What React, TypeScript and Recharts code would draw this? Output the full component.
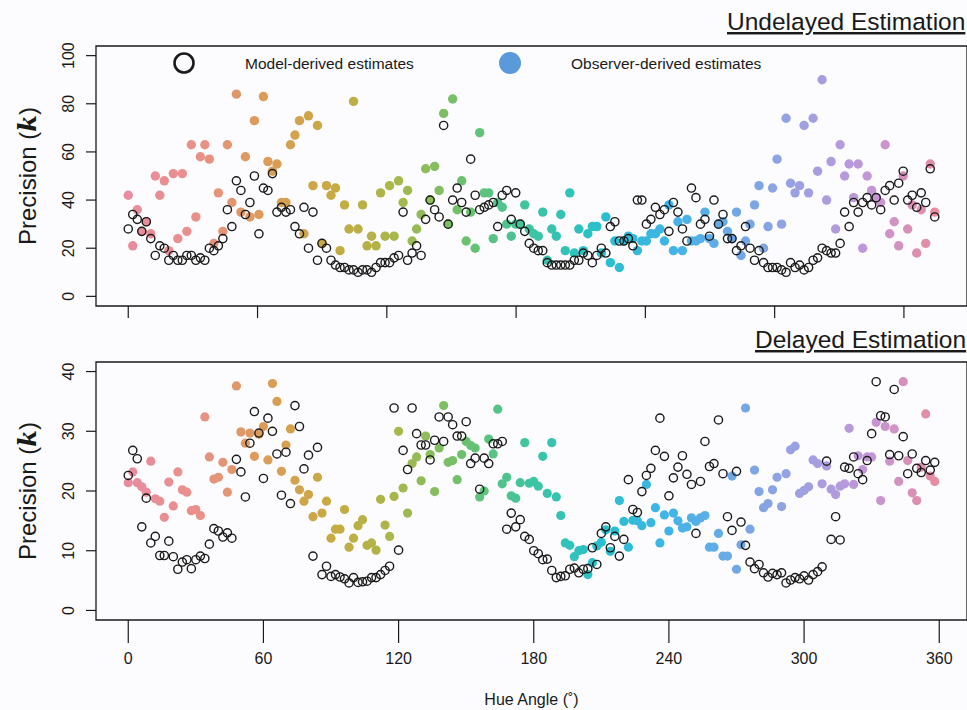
import { Label, ReferenceArea, Scatter, ScatterChart, XAxis, YAxis } from "recharts";

// stimulus hues, 2 degree steps
const hueAngles = Array.from({ length: 180 }, (_, i) => i * 2);

// the undelayed panel's axis is stretched: its data runs to ~374 on its own scale
const TOP_AXIS_SCALE = 374.3 / 358;

const xTicks = [0, 60, 120, 180, 240, 300, 360];
const topYTicks = [0, 20, 40, 60, 80, 100];
const bottomYTicks = [0, 10, 20, 30, 40];

// Undelayed estimation
const topModel = [
  28, 34, 32, 27, 31, 24, 17, 21, 20, 15,
  17, 15, 15, 17, 17, 15, 16, 15, 20, 19,
  21, 24, 36, 29, 48, 44, 34, 39, 50, 26,
  45, 44, 51, 35, 37, 35, 36, 29, 26, 37,
  20, 35, 15, 22, 20, 15, 13, 12, 12, 11,
  11, 10, 11, 11, 10, 12, 14, 14, 14, 16,
  17, 35, 15, 18, 21, 17, 32, 40, 36, 33,
  71, 30, 40, 45, 39, 35, 57, 42, 36, 37,
  38, 39, 29, 42, 44, 32, 43, 30, 27, 22,
  20, 19, 19, 14, 13, 13, 13, 13, 13, 15,
  15, 18, 17, 14, 17, 20, 18, 29, 31, 23,
  23, 24, 21, 40, 40, 30, 32, 37, 34, 36,
  27, 39, 35, 28, 23, 45, 41, 30, 32, 25,
  40, 30, 34, 24, 24, 19, 21, 29, 20, 15,
  19, 14, 12, 12, 12, 11, 10, 14, 12, 13,
  11, 12, 15, 16, 20, 19, 18, 18, 22, 35,
  29, 39, 35, 39, 41, 38, 41, 36, 44, 46,
  40, 47, 52, 40, 42, 37, 43, 39, 53, 33,
];

const topObserver = [
  42, 21, 36, 27, 31, 26, 50, 42, 48, 19,
  51, 24, 51, 27, 63, 33, 58, 63, 57, 22,
  43, 27, 63, 39, 84, 35, 58, 33, 73, 34,
  83, 56, 52, 55, 39, 39, 63, 67, 73, 26,
  75, 46, 71, 22, 46, 42, 45, 19, 38, 28,
  81, 28, 38, 21, 25, 21, 43, 25, 46, 25,
  48, 39, 44, 23, 28, 34, 53, 40, 54, 44,
  76, 30, 82, 36, 48, 23, 35, 20, 68, 43,
  43, 24, 39, 37, 30, 25, 30, 30, 38, 28,
  26, 25, 35, 15, 28, 25, 34, 19, 43, 18,
  28, 19, 26, 29, 29, 18, 33, 14, 23, 12,
  23, 25, 24, 19, 23, 23, 26, 26, 28, 23,
  38, 19, 31, 19, 32, 23, 23, 24, 35, 24,
  22, 30, 31, 27, 24, 35, 17, 23, 30, 38,
  46, 20, 29, 45, 57, 30, 74, 47, 43, 46,
  71, 43, 74, 52, 90, 40, 56, 28, 63, 50,
  55, 41, 55, 20, 50, 44, 41, 39, 63, 26,
  31, 21, 50, 28, 38, 18, 36, 22, 55, 35,
];

// Delayed estimation
const bottomModel = [
  22.6, 26.8, 25.4, 14, 18.8, 11.3, 12.4, 9.2, 9.2, 11.6,
  9, 6.9, 8.1, 8.5, 7, 8.5, 9.1, 8.7, 11.1, 13.7,
  13.3, 12.3, 13, 12.1, 25.3, 23.2, 19, 28, 33.3, 29.7,
  22.1, 32.2, 30, 26.2, 19.3, 26.5, 17.9, 34.3, 30.8, 23.7,
  26, 9.1, 27.3, 6, 7.4, 5.7, 6, 5.6, 5.3, 4.6,
  5.5, 4.7, 4.8, 4.9, 5.5, 5.5, 6, 6.7, 7.4, 33.9,
  10.1, 26.8, 23.6, 33.9, 29.6, 27.7, 27.7, 25.2, 28.5, 32.4,
  28.3, 32.4, 31.1, 29.2, 29.2, 31.6, 24.6, 25.5, 20.3, 25.5,
  24.6, 27.9, 27.9, 28.3, 13.6, 16.3, 14, 15.2, 12.4, 11.9,
  10, 9.5, 8.5, 8.6, 6.7, 5.5, 5.7, 5.8, 6.9, 7.1,
  6.3, 6.9, 7, 10.5, 7.7, 12.9, 14, 10.5, 12.4, 9.1,
  11.9, 21.9, 16.9, 16.4, 19.9, 22.6, 23.8, 26.8, 32.2, 25.8,
  19.2, 22.2, 24, 25.9, 22.8, 21.1, 12.9, 21.6, 28.3, 24.1,
  24.6, 31.9, 22.9, 15.7, 13.4, 23.3, 14.8, 10.9, 8.1, 7,
  7.7, 6.3, 5.6, 6.2, 6, 6.3, 4.6, 5.1, 5.5, 5.3,
  5.8, 5.1, 6, 6.5, 7.3, 25, 11.9, 15.7, 11.8, 24,
  23.8, 25.7, 22.9, 21.9, 25.1, 29.6, 38.3, 32.6, 32.4, 26.1,
  37, 25.9, 29.1, 22.9, 26.2, 23.8, 23.1, 25.1, 23.5, 24.8,
];

const bottomObserver = [
  21.4, 23.2, 21.4, 20.7, 19.8, 25, 18.7, 18.3, 15.6, 21.5,
  17.5, 23.2, 20.2, 19.8, 16.7, 16.9, 15.9, 32.4, 25.7, 22,
  22.3, 24.8, 19.8, 23.6, 37.6, 29.9, 28, 29.7, 25.8, 29.5,
  30.8, 25.2, 38, 35, 23.3, 27.7, 30.4, 21.8, 20.2, 18.3,
  19.4, 15.7, 22.3, 16.3, 18.3, 12.1, 13.6, 13.6, 16.9, 10.6,
  12.1, 14.2, 15.2, 10.9, 11.3, 10.1, 18.6, 14.3, 12.4, 19.1,
  30, 20.5, 16.3, 24.6, 25.7, 21.7, 29.2, 26.1, 19.9, 27.2,
  34.3, 24.8, 25.1, 21.9, 26.1, 28.3, 27.6, 27.2, 19, 20,
  28.7, 26.2, 33.7, 21.2, 22.3, 19.2, 18.8, 21.4, 28.1, 21.3,
  21.6, 20.8, 25.8, 19.6, 28.1, 19, 15.9, 11.3, 10.9, 9,
  10, 10.2, 6, 8, 10.8, 11.4, 13.5, 9.9, 13.3, 18.4,
  14.9, 10.6, 15.1, 15, 14.2, 21.1, 14.7, 17.2, 11.3, 16,
  13.3, 16.3, 15, 13.8, 14, 15.5, 14.9, 15.5, 15.9, 10.6,
  10.6, 12.9, 9.1, 9.1, 22.5, 6.9, 11, 33.9, 13.6, 23.5,
  19.9, 17.2, 17.9, 20.2, 22.3, 17.4, 22.9, 26.9, 27.5, 19.6,
  20.1, 20.7, 25.2, 24.6, 21.2, 24.2, 20.3, 19.4, 20.8, 21.2,
  30.5, 21.1, 25.9, 23.6, 25.7, 25.7, 31.5, 18.4, 30.8, 25,
  30.4, 21.6, 38.3, 25.1, 19.7, 18.4, 24, 32.9, 22.5, 21.6,
];

// colour wheel, one stop every 30 degrees
const hueStops = [
  "#E88C9E", "#E9908A", "#DC9C58", "#C8AA42", "#A6B84C", "#6AC26E", "#3CC4A4",
  "#28C0CC", "#40B4E8", "#70A8E6", "#A0A0E2", "#C496D6", "#E88C9E",
];

const FONT = "'Liberation Sans', Arial, Helvetica, sans-serif";
const INK = "#1a1a1a";
const BG = "#fcfcfe";

const TOP_X_DOMAIN: [number, number] = [-0.04 * 374.3, 1.04 * 374.3];
const BOTTOM_X_DOMAIN: [number, number] = [-0.04 * 358, 1.04 * 358];
const TOP_Y_DOMAIN: [number, number] = [-4, 104];
const BOTTOM_Y_DOMAIN: [number, number] = [-1.6, 41.6];

const hexToRgb = (hex: string) => [1, 3, 5].map((k) => parseInt(hex.slice(k, k + 2), 16));

const hueColor = (hue: number) => {
  const t = (hue % 360) / 30;
  const k = Math.floor(t);
  const f = t - k;
  const a = hexToRgb(hueStops[k]);
  const b = hexToRgb(hueStops[k + 1]);
  const c = a.map((v, j) => Math.round(v + (b[j] - v) * f));
  return `rgb(${c[0]},${c[1]},${c[2]})`;
};

const toPoints = (values: number[], scale: number) =>
  hueAngles.map((hue, i) => ({ x: hue * scale, y: values[i], hue }));

const ObserverDot = (r: number) => (props: any) =>
  <circle cx={props.cx} cy={props.cy} r={r} fill={hueColor(props.payload.hue)} />;

const ModelRing = (props: any) => (
  <circle cx={props.cx} cy={props.cy} r={4.1} fill="none" stroke={INK} strokeWidth={1.4} />
);

const NoTickLabel = () => <g />;

const RotatedYTick = (props: any) => {
  const { x, y, payload } = props;
  return (
    <text
      x={x}
      y={y}
      transform={`rotate(-90 ${x} ${y})`}
      textAnchor="middle"
      fontSize={16}
      fontFamily={FONT}
      fill={INK}
    >
      {payload.value}
    </text>
  );
};

const PrecisionLabel = (props: any) => {
  const vb = props.viewBox;
  const cx = 27;
  const cy = vb.y + vb.height / 2;
  return (
    <text
      x={cx}
      y={cy}
      transform={`rotate(-90 ${cx} ${cy})`}
      textAnchor="middle"
      dominantBaseline="central"
      fontSize={24}
      fontFamily={FONT}
      fill={INK}
    >
      Precision (
      <tspan fontWeight="bold" fontStyle="italic" fontFamily="'DejaVu Serif', 'Liberation Serif', serif">
        k
      </tspan>
      )
    </text>
  );
};

const HueLabel = (props: any) => {
  const vb = props.viewBox;
  return (
    <text
      x={vb.x + vb.width / 2}
      y={vb.y + 79}
      textAnchor="middle"
      dominantBaseline="central"
      fontSize={16}
      fontFamily={FONT}
      fill={INK}
    >
      Hue Angle (˚)
    </text>
  );
};

type PanelProps = {
  height: number;
  top: number;
  xAxisHeight: number;
  xDomain: [number, number];
  yDomain: [number, number];
  yTicks: number[];
  tickSize: number;
  model: { x: number; y: number; hue: number }[];
  observer: { x: number; y: number; hue: number }[];
  dotRadius: number;
  showXLabels: boolean;
};

const Panel = (p: PanelProps) => (
  <ScatterChart width={967} height={p.height} margin={{ top: p.top, right: 0, bottom: 0, left: 0 }}>
    <XAxis
      type="number"
      dataKey="x"
      domain={p.xDomain}
      ticks={xTicks}
      allowDataOverflow
      height={p.xAxisHeight}
      axisLine={false}
      tickSize={p.tickSize}
      tickMargin={10}
      tickLine={{ stroke: INK, strokeWidth: 1.2 }}
      tick={p.showXLabels ? { fontSize: 16, fontFamily: FONT, fill: INK } : NoTickLabel}
      interval={0}
    >
      {p.showXLabels && <Label content={HueLabel} />}
    </XAxis>
    <YAxis
      type="number"
      dataKey="y"
      domain={p.yDomain}
      ticks={p.yTicks}
      allowDataOverflow
      width={96}
      axisLine={false}
      tickSize={10}
      tickMargin={12}
      tickLine={{ stroke: INK, strokeWidth: 1.2 }}
      tick={RotatedYTick}
      interval={0}
    >
      <Label content={PrecisionLabel} />
    </YAxis>
    <ReferenceArea
      x1={p.xDomain[0]}
      x2={p.xDomain[1]}
      y1={p.yDomain[0]}
      y2={p.yDomain[1]}
      fill="none"
      fillOpacity={0}
      stroke={INK}
      strokeWidth={1.3}
      ifOverflow="visible"
    />
    <Scatter data={p.observer} shape={ObserverDot(p.dotRadius)} isAnimationActive={false} />
    <Scatter data={p.model} shape={ModelRing} isAnimationActive={false} />
  </ScatterChart>
);

export default function App() {
  return (
    <div style={{ position: "absolute", left: 0, top: 0, width: 967, height: 710, background: BG, overflow: "hidden" }}>
      <div style={{ position: "absolute", left: 0, top: 0 }}>
        <Panel
          height={330}
          top={46}
          xAxisHeight={24}
          xDomain={TOP_X_DOMAIN}
          yDomain={TOP_Y_DOMAIN}
          yTicks={topYTicks}
          tickSize={12}
          model={toPoints(topModel, TOP_AXIS_SCALE)}
          observer={toPoints(topObserver, TOP_AXIS_SCALE)}
          dotRadius={4.7}
          showXLabels={false}
        />
      </div>
      <div style={{ position: "absolute", left: 0, top: 330 }}>
        <Panel
          height={380}
          top={32}
          xAxisHeight={90}
          xDomain={BOTTOM_X_DOMAIN}
          yDomain={BOTTOM_Y_DOMAIN}
          yTicks={bottomYTicks}
          tickSize={23}
          model={toPoints(bottomModel, 1)}
          observer={toPoints(bottomObserver, 1)}
          dotRadius={4.6}
          showXLabels
        />
      </div>
      <svg width={967} height={710} style={{ position: "absolute", left: 0, top: 0, pointerEvents: "none" }}>
        <g fontFamily={FONT} fill={INK}>
          <text x={727} y={30} fontSize={24.5} textDecoration="underline">
            Undelayed Estimation
          </text>
          <text x={755} y={348} fontSize={24.5} textDecoration="underline">
            Delayed Estimation
          </text>
          <circle cx={184} cy={63} r={9.5} fill="none" stroke={INK} strokeWidth={2.6} />
          <text x={245} y={69} fontSize={15.5}>
            Model-derived estimates
          </text>
          <circle cx={510} cy={63} r={11} fill="#5A9ADB" />
          <text x={571} y={69} fontSize={15.5}>
            Observer-derived estimates
          </text>
        </g>
      </svg>
    </div>
  );
}
